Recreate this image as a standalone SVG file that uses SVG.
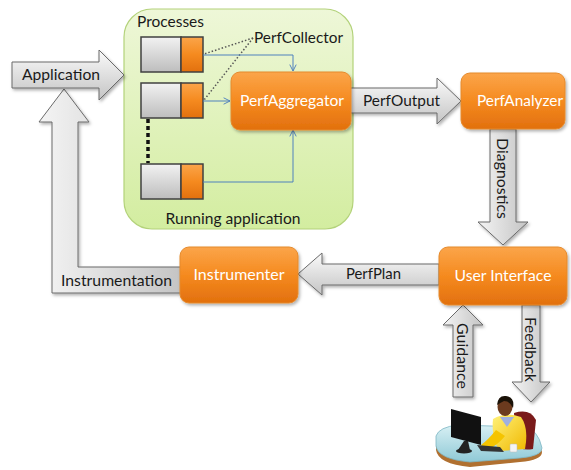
<svg xmlns="http://www.w3.org/2000/svg" width="571" height="470" viewBox="0 0 571 470">
  <defs>
    <linearGradient id="grayV" x1="0" y1="0" x2="0" y2="1">
      <stop offset="0" stop-color="#fafafa"/>
      <stop offset="1" stop-color="#c4c4c4"/>
    </linearGradient>
    <linearGradient id="grayH" x1="0" y1="0" x2="1" y2="0">
      <stop offset="0" stop-color="#f4f4f4"/>
      <stop offset="1" stop-color="#c4c4c4"/>
    </linearGradient>
    <linearGradient id="orange" x1="0" y1="0" x2="0" y2="1">
      <stop offset="0" stop-color="#fba54a"/>
      <stop offset="0.5" stop-color="#f58a1f"/>
      <stop offset="1" stop-color="#e2700e"/>
    </linearGradient>
    <linearGradient id="green" x1="0" y1="0" x2="0" y2="1">
      <stop offset="0" stop-color="#eef7d8"/>
      <stop offset="1" stop-color="#d3eda0"/>
    </linearGradient>
    <linearGradient id="procGray" x1="0" y1="0" x2="0" y2="1">
      <stop offset="0" stop-color="#f2f2f2"/>
      <stop offset="1" stop-color="#bdbdbd"/>
    </linearGradient>
    <linearGradient id="desk" x1="0" y1="0" x2="0" y2="1">
      <stop offset="0" stop-color="#d8f0f4"/>
      <stop offset="1" stop-color="#8fc9d6"/>
    </linearGradient>
    <linearGradient id="shirt" x1="0" y1="0" x2="1" y2="1">
      <stop offset="0" stop-color="#fff27a"/>
      <stop offset="1" stop-color="#f0b800"/>
    </linearGradient>
    <filter id="shadow" x="-10%" y="-10%" width="125%" height="130%">
      <feDropShadow dx="1.5" dy="2" stdDeviation="1.5" flood-color="#000" flood-opacity="0.3"/>
    </filter>
    <marker id="open" viewBox="0 0 10 10" refX="9" refY="5" markerWidth="8" markerHeight="8" orient="auto" markerUnits="userSpaceOnUse">
      <path d="M1,1 L9,5 L1,9" fill="none" stroke="#4f81bd" stroke-width="1.2"/>
    </marker>
    <style>
      .lbl { font-family: "Lato", "Liberation Sans", sans-serif; font-size: 16px; fill: #1a1a1a; }
      .wlbl { font-family: "Lato", "Liberation Sans", sans-serif; font-size: 16px; fill: #ffffff; }
      .gray { stroke: #6a6a6a; stroke-width: 1; filter: url(#shadow); }
      .node { fill: url(#orange); stroke: #e58a2c; stroke-width: 1; filter: url(#shadow); }
      .pgray { fill: url(#procGray); stroke: #404040; stroke-width: 1.5; }
      .porange { fill: url(#orange); stroke: #404040; stroke-width: 1.5; }
      .link { fill: none; stroke: #4f81bd; stroke-width: 1; marker-end: url(#open); }
      .dots { fill: none; stroke: #555; stroke-width: 1.5; stroke-dasharray: 1.5 2; }
    </style>
  </defs>

  <!-- container -->
  <g id="running-application">
    <rect x="124" y="9" width="229" height="220" rx="28" fill="url(#green)" stroke="#b3d27a" stroke-width="1.2"/>
    <text class="lbl" x="233" y="224" text-anchor="middle" fill="#333" textLength="135" lengthAdjust="spacingAndGlyphs">Running application</text>
    <text class="lbl" x="137" y="27" textLength="67" lengthAdjust="spacingAndGlyphs">Processes</text>
  </g>

  <!-- process boxes -->
  <g id="process-1">
    <rect class="pgray" x="141" y="37" width="40" height="35"/>
    <rect class="porange" x="181" y="37" width="22" height="35"/>
  </g>
  <g id="process-2">
    <rect class="pgray" x="141" y="83" width="40" height="35"/>
    <rect class="porange" x="181" y="83" width="22" height="35"/>
  </g>
  <g id="process-3">
    <rect class="pgray" x="141" y="164" width="40" height="35"/>
    <rect class="porange" x="181" y="164" width="22" height="35"/>
  </g>

  <g id="perfcollector">
    <text class="lbl" x="254" y="43" textLength="89" lengthAdjust="spacingAndGlyphs">PerfCollector</text>
  </g>

  <!-- connectors -->
  <g id="connectors">
    <path class="dots" d="M253,38 L204,54"/>
    <path class="dots" d="M253,38 L204,100"/>
    <path d="M148,119 V163" fill="none" stroke="#111" stroke-width="3.5" stroke-dasharray="4 3"/>
    <path class="link" d="M203,55 H293 V71"/>
    <path class="link" d="M203,101 H230"/>
    <path class="link" d="M203,182 H293 V130"/>

    <!-- block arrows -->
    <path class="gray" fill="url(#grayH)" d="M64,89 L89,122 H78 V267 H182 V293 H52 V122 H39 Z"/>
    <path class="gray" fill="url(#grayV)" d="M12,62 H99 V50 L124,75 L99,100 V88 H12 Z"/>
    <path class="gray" fill="url(#grayV)" d="M350,88 H437 V78 L461,101 L437,124 V113 H350 Z"/>
    <path class="gray" fill="url(#grayH)" d="M490,129 H516 V222 H528 L503,245 L478,222 H490 Z"/>
    <path class="gray" fill="url(#grayV)" d="M439,264 H322 V253 L298,274 L322,295 V285 H439 Z"/>
    <path class="gray" fill="url(#grayH)" d="M463,305 L483,325 H473 V397 H453 V325 H443 Z"/>
    <path class="gray" fill="url(#grayH)" d="M522,305 H540 V382 H550 L531,402 L512,382 H522 Z"/>

    <text class="lbl" x="22" y="80" textLength="78" lengthAdjust="spacingAndGlyphs">Application</text>
    <text class="lbl" x="61" y="286" textLength="111" lengthAdjust="spacingAndGlyphs">Instrumentation</text>
    <text class="lbl" x="363" y="106" textLength="77" lengthAdjust="spacingAndGlyphs">PerfOutput</text>
    <text class="lbl" x="346" y="279" textLength="55" lengthAdjust="spacingAndGlyphs">PerfPlan</text>
    <text class="lbl" transform="translate(497,138) rotate(90)" textLength="81" lengthAdjust="spacingAndGlyphs">Diagnostics</text>
    <text class="lbl" transform="translate(457,323) rotate(90)" textLength="66" lengthAdjust="spacingAndGlyphs">Guidance</text>
    <text class="lbl" transform="translate(525,317) rotate(90)" textLength="65" lengthAdjust="spacingAndGlyphs">Feedback</text>
  </g>

  <!-- orange nodes -->
  <g id="perfaggregator">
    <rect class="node" x="231" y="72" width="120" height="58" rx="9"/>
    <text class="wlbl" x="292" y="106" text-anchor="middle" textLength="104" lengthAdjust="spacingAndGlyphs">PerfAggregator</text>
  </g>
  <g id="perfanalyzer">
    <rect class="node" x="461" y="73" width="104" height="56" rx="9"/>
    <text class="wlbl" x="520" y="106" text-anchor="middle" textLength="86" lengthAdjust="spacingAndGlyphs">PerfAnalyzer</text>
  </g>
  <g id="user-interface">
    <rect class="node" x="439" y="247" width="128" height="58" rx="9"/>
    <text class="wlbl" x="503" y="281" text-anchor="middle" textLength="97" lengthAdjust="spacingAndGlyphs">User Interface</text>
  </g>
  <g id="instrumenter">
    <rect class="node" x="180" y="247" width="118" height="56" rx="9"/>
    <text class="wlbl" x="239" y="280" text-anchor="middle" textLength="91" lengthAdjust="spacingAndGlyphs">Instrumenter</text>
  </g>

  <!-- user at workstation -->
  <g id="user">
    <!-- desk -->
    <path d="M436,440 Q439,430 458,428 L524,430 Q538,432 542,452 Q542,460 520,462 L470,467 Q438,464 436,450 Z" fill="#b07030"/>
    <path d="M436,436 Q439,427 458,425 L524,427 Q538,429 542,448 Q542,456 520,458 L470,462 Q438,459 436,446 Z" fill="url(#desk)" stroke="#7fb6c4" stroke-width="0.8"/>
    <!-- chair -->
    <path d="M514,413 Q530,408 536,420 L533,449 Q522,451 516,446 Z" fill="#7a1a1a"/>
    <!-- person -->
    <path d="M493,419 Q506,411 521,417 Q529,428 525,449 L500,451 Q491,440 493,419 Z" fill="url(#shirt)"/>
    <path d="M500,417 L507,427 L514,417 Z" fill="#9fb0e0"/>
    <path d="M496,430 Q488,440 481,445 L487,450 Q498,445 505,436 Z" fill="#f5c400"/>
    <ellipse cx="505" cy="407" rx="7.5" ry="9" fill="#6b3a1e"/>
    <path d="M497,405 Q498,395 506,396 Q515,397 513,408 Q510,401 504,401 Q500,403 497,405 Z" fill="#1a1208"/>
    <!-- monitor -->
    <path d="M451,409 L481,417 L481,445 L451,437 Z" fill="#111"/>
    <path d="M464,441 L468,441 L470,450 L458,450 Z" fill="#222"/>
    <ellipse cx="464" cy="451" rx="8" ry="2.5" fill="#222"/>
    <!-- keyboard -->
    <path d="M477,445 L500,447 L504,452 L481,451 Z" fill="#333"/>
    <!-- mug -->
    <rect x="510" y="444" width="7" height="8" rx="1" fill="#f4f4f4" stroke="#bbb" stroke-width="0.5"/>
  </g>
</svg>
